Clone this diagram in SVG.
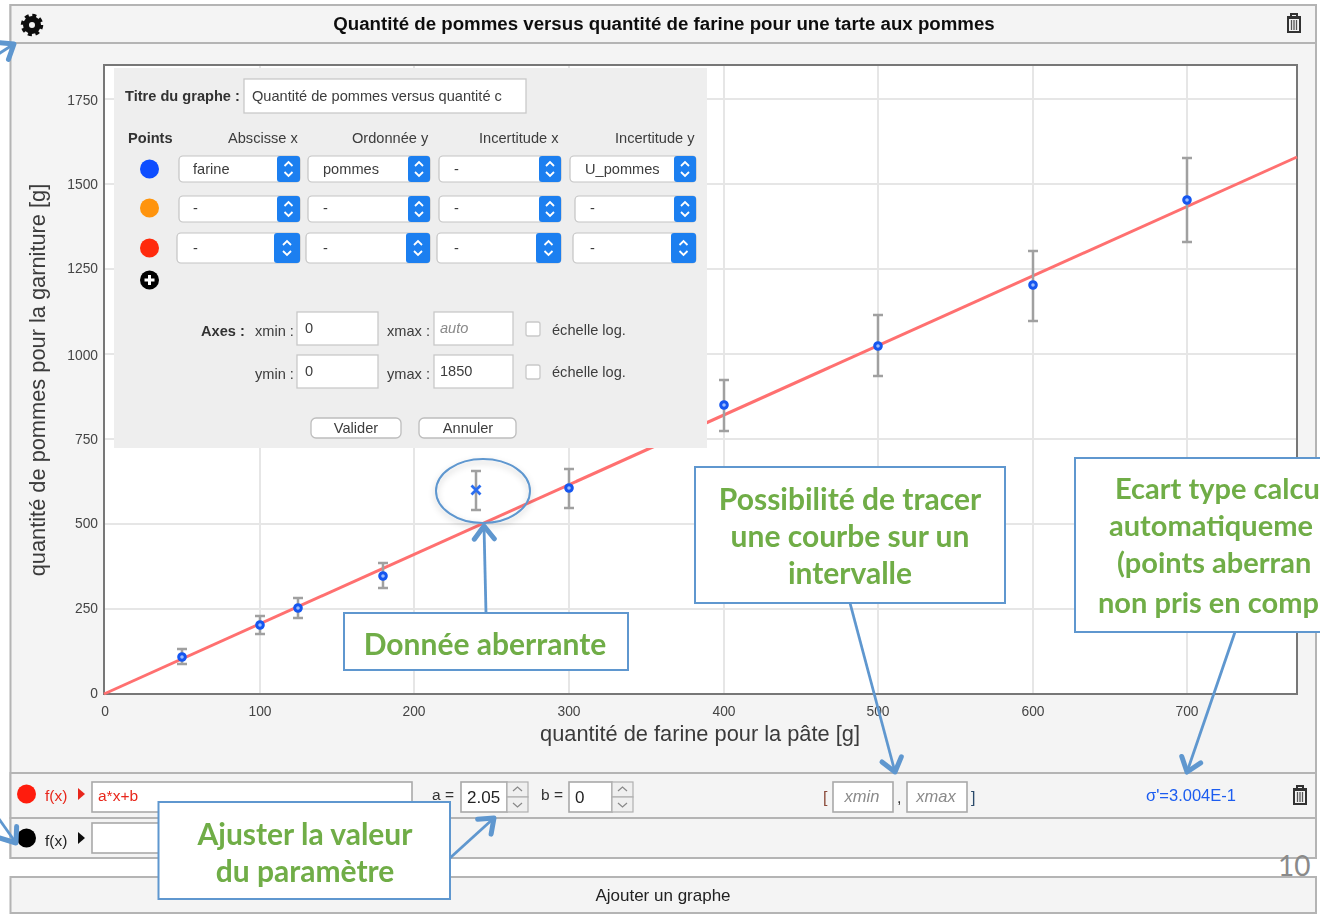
<svg xmlns="http://www.w3.org/2000/svg" xmlns:xlink="http://www.w3.org/1999/xlink" width="1320" height="922" viewBox="0 0 1320 922">
<style>
text{font-family:"Liberation Sans",Arial,sans-serif;fill:#333}
.p{fill:#f4f4f4;stroke:#b4b4b4;stroke-width:2}
.grid{stroke:#e6e6e6;stroke-width:2;fill:none}
.tick{font-size:13.800px;fill:#444}
.ax{font-size:21.800px;fill:#3a3a3a}
.err{stroke:#a0a0a0;stroke-width:2.500;fill:none}
.pt{fill:#9dbdff;stroke:#1556f0;stroke-width:3}
.d{font-size:14.600px;fill:#3c3c3c}
.db{font-size:14.600px;font-weight:bold;fill:#333}
.in{fill:#fff;stroke:#c9c9c9;stroke-width:1.300}
.sel{fill:#fff;stroke:#c4c4c4;stroke-width:1.200}
.blue{fill:#1c7ff0}
.chev{fill:none;stroke:#fff;stroke-width:1.800}
.btn{fill:#fff;stroke:#bdbdbd;stroke-width:1.300}
.rin{fill:#fff;stroke:#a9a9a9;stroke-width:1.600}
.spin{fill:#efefef;stroke:#b0b0b0;stroke-width:1.200}
.sc{fill:none;stroke:#888;stroke-width:1.200}
.call{fill:#fff;stroke:#5f97cf;stroke-width:2}
.ct{font-family:Lato,"Open Sans",sans-serif;font-weight:bold;font-size:30px;fill:#70ad47}
.cs{font-size:29px}
.cm{text-anchor:middle}
.conn{fill:none;stroke:#5f97cf;stroke-width:2.800}
.ph{font-style:italic;fill:#8a8a8a}
</style>
<defs>
<g id="chevs"><path class="chev" d="M-4,-3 L0,-7 L4,-3 M-4,3 L0,7 L4,3"/></g>
<marker id="open" markerUnits="userSpaceOnUse" markerWidth="30" markerHeight="30" refX="24" refY="14" orient="auto" viewBox="0 0 30 30"><path d="M11,4 L24,14 L11,24" fill="none" stroke="#5f97cf" stroke-width="5" stroke-linecap="round" stroke-linejoin="round"/></marker>
<g id="trash"><path d="M-7,-7 H7 M-3,-7 V-10 H3 V-7 M-6,-6 V8 H6 V-6 Z" fill="none" stroke="#333" stroke-width="2"/><path d="M-2.500,-4 V6 M0,-4 V6 M2.500,-4 V6" stroke="#555" stroke-width="1.300"/></g>
<filter id="sh" x="-20%" y="-20%" width="140%" height="150%"><feDropShadow dx="0" dy="3" stdDeviation="3" flood-color="#000" flood-opacity="0.22"/></filter>
<filter id="soft" x="-1%" y="-1%" width="102%" height="102%"><feGaussianBlur stdDeviation="0.450"/></filter>
</defs>
<rect width="1320" height="922" fill="#fff"/>

<g id="panel" filter="url(#soft)">
<rect class="p" x="10.500" y="5" width="1305.500" height="853"/>
<rect class="p" x="10.500" y="5" width="1305.500" height="38"/>
<rect class="p" x="10.500" y="773" width="1305.500" height="45"/>
<rect class="p" x="10.500" y="818" width="1305.500" height="40"/>
<text x="664" y="30" text-anchor="middle" font-size="18.700" font-weight="bold" style="fill:#111">Quantité de pommes versus quantité de farine pour une tarte aux pommes</text>
<g id="gear" transform="translate(32,25)"><circle r="6" fill="none" stroke="#111" stroke-width="6"/><circle r="9.500" fill="none" stroke="#111" stroke-width="3.500" stroke-dasharray="4 3.460"/></g>
<use xlink:href="#trash" href="#trash" x="1294" y="24"/>
</g>

<g id="plot" filter="url(#soft)">
<rect x="104" y="65" width="1193" height="629" fill="#fff" stroke="#777" stroke-width="2"/>
<path class="grid" d="M260,66V693M414,66V693M569,66V693M724,66V693M878,66V693M1033,66V693M1187,66V693M105,99H1296M105,184H1296M105,269H1296M105,354H1296M105,439H1296M105,524H1296M105,609H1296"/>
<path d="M104,694 L1297,157" stroke="#ff7070" stroke-width="3" fill="none"/>
<path class="err" d="M182,649V664M177,649H187M177,664H187M260,616V634M255,616H265M255,634H265M298,598V618M293,598H303M293,618H303M383,563V588M378,563H388M378,588H388M476,471V510M471,471H481M471,510H481M569,469V508M564,469H574M564,508H574M724,380V431M719,380H729M719,431H729M878,315V376M873,315H883M873,376H883M1033,251V321M1028,251H1038M1028,321H1038M1187,158V242M1182,158H1192M1182,242H1192"/>
<circle class="pt" cx="182" cy="657" r="3.300"/><circle class="pt" cx="260" cy="625" r="3.300"/><circle class="pt" cx="298" cy="608" r="3.300"/><circle class="pt" cx="383" cy="576" r="3.300"/><circle class="pt" cx="569" cy="488" r="3.300"/><circle class="pt" cx="724" cy="405" r="3.300"/><circle class="pt" cx="878" cy="346" r="3.300"/><circle class="pt" cx="1033" cy="285" r="3.300"/><circle class="pt" cx="1187" cy="200" r="3.300"/>
<path d="M471.500,485.500L480.500,494.500M480.500,485.500L471.500,494.500" stroke="#2a6df0" stroke-width="2.800"/>
<g text-anchor="end">
<text class="tick" x="98" y="105">1750</text><text class="tick" x="98" y="189">1500</text><text class="tick" x="98" y="273">1250</text><text class="tick" x="98" y="360">1000</text><text class="tick" x="98" y="444">750</text><text class="tick" x="98" y="528">500</text><text class="tick" x="98" y="613">250</text><text class="tick" x="98" y="698">0</text>
</g>
<g text-anchor="middle">
<text class="tick" x="105" y="716">0</text><text class="tick" x="260" y="716">100</text><text class="tick" x="414" y="716">200</text><text class="tick" x="569" y="716">300</text><text class="tick" x="724" y="716">400</text><text class="tick" x="878" y="716">500</text><text class="tick" x="1033" y="716">600</text><text class="tick" x="1187" y="716">700</text>
</g>
<text class="ax" x="700" y="741" text-anchor="middle">quantité de farine pour la pâte [g]</text>
<text class="ax" transform="translate(45,380) rotate(-90)" text-anchor="middle">quantité de pommes pour la garniture [g]</text>
</g>

<g id="settings-dialog" filter="url(#soft)">
<rect x="114" y="68" width="593" height="380" fill="#eeeeee"/>
<text class="db" x="125" y="101">Titre du graphe :</text>
<rect class="in" x="244" y="79" width="282" height="34"/>
<text class="d" x="252" y="101">Quantité de pommes versus quantité c</text>
<text class="db" x="128" y="143">Points</text>
<text class="d" x="228" y="143">Abscisse x</text><text class="d" x="352" y="143">Ordonnée y</text><text class="d" x="479" y="143">Incertitude x</text><text class="d" x="615" y="143">Incertitude y</text>
<circle cx="149.500" cy="169" r="9.500" fill="#0a4dff"/><circle cx="149.500" cy="208" r="9.500" fill="#ff9408"/><circle cx="149.500" cy="248" r="9.500" fill="#ff2a0a"/>
<circle cx="149.500" cy="280" r="9.500" fill="#000"/><path d="M144.500,280H154.500M149.500,275V285" stroke="#fff" stroke-width="3"/>
<g id="row1">
<rect class="sel" x="179" y="156" width="121" height="26" rx="4"/><rect class="blue" x="277" y="156" width="23" height="26" rx="3"/><use href="#chevs" xlink:href="#chevs" x="288.500" y="169"/><text class="d" x="193" y="174">farine</text>
<rect class="sel" x="308" y="156" width="122" height="26" rx="4"/><rect class="blue" x="408" y="156" width="22" height="26" rx="3"/><use href="#chevs" xlink:href="#chevs" x="419" y="169"/><text class="d" x="323" y="174">pommes</text>
<rect class="sel" x="439" y="156" width="122" height="26" rx="4"/><rect class="blue" x="539" y="156" width="22" height="26" rx="3"/><use href="#chevs" xlink:href="#chevs" x="550" y="169"/><text class="d" x="454" y="174">-</text>
<rect class="sel" x="570" y="156" width="126" height="26" rx="4"/><rect class="blue" x="674" y="156" width="22" height="26" rx="3"/><use href="#chevs" xlink:href="#chevs" x="685" y="169"/><text class="d" x="585" y="174">U_pommes</text>
</g>
<g id="row2">
<rect class="sel" x="179" y="196" width="121" height="26" rx="4"/><rect class="blue" x="277" y="196" width="23" height="26" rx="3"/><use href="#chevs" xlink:href="#chevs" x="288.500" y="209"/><text class="d" x="193" y="213">-</text>
<rect class="sel" x="308" y="196" width="122" height="26" rx="4"/><rect class="blue" x="408" y="196" width="22" height="26" rx="3"/><use href="#chevs" xlink:href="#chevs" x="419" y="209"/><text class="d" x="323" y="213">-</text>
<rect class="sel" x="439" y="196" width="122" height="26" rx="4"/><rect class="blue" x="539" y="196" width="22" height="26" rx="3"/><use href="#chevs" xlink:href="#chevs" x="550" y="209"/><text class="d" x="454" y="213">-</text>
<rect class="sel" x="575" y="196" width="121" height="26" rx="4"/><rect class="blue" x="674" y="196" width="22" height="26" rx="3"/><use href="#chevs" xlink:href="#chevs" x="685" y="209"/><text class="d" x="590" y="213">-</text>
</g>
<g id="row3">
<rect class="sel" x="177" y="233" width="123" height="30" rx="4"/><rect class="blue" x="274" y="233" width="26" height="30" rx="3"/><use href="#chevs" xlink:href="#chevs" x="287" y="248"/><text class="d" x="193" y="253">-</text>
<rect class="sel" x="306" y="233" width="124" height="30" rx="4"/><rect class="blue" x="406" y="233" width="24" height="30" rx="3"/><use href="#chevs" xlink:href="#chevs" x="418" y="248"/><text class="d" x="323" y="253">-</text>
<rect class="sel" x="437" y="233" width="124" height="30" rx="4"/><rect class="blue" x="536" y="233" width="25" height="30" rx="3"/><use href="#chevs" xlink:href="#chevs" x="548.500" y="248"/><text class="d" x="454" y="253">-</text>
<rect class="sel" x="573" y="233" width="123" height="30" rx="4"/><rect class="blue" x="671" y="233" width="25" height="30" rx="3"/><use href="#chevs" xlink:href="#chevs" x="683.500" y="248"/><text class="d" x="590" y="253">-</text>
</g>
<text class="db" x="201" y="336">Axes :</text>
<text class="d" x="255" y="336">xmin :</text><rect class="in" x="297" y="312" width="81" height="33"/><text class="d" x="305" y="333">0</text>
<text class="d" x="387" y="336">xmax :</text><rect class="in" x="434" y="312" width="79" height="33"/><text class="d ph" x="440" y="333">auto</text>
<rect class="in" x="526" y="322" width="14" height="14" rx="2"/><text class="d" x="552" y="335">échelle log.</text>
<text class="d" x="255" y="379">ymin :</text><rect class="in" x="297" y="355" width="81" height="33"/><text class="d" x="305" y="376">0</text>
<text class="d" x="387" y="379">ymax :</text><rect class="in" x="434" y="355" width="79" height="33"/><text class="d" x="440" y="376">1850</text>
<rect class="in" x="526" y="365" width="14" height="14" rx="2"/><text class="d" x="552" y="377">échelle log.</text>
<rect class="btn" x="311" y="418" width="90" height="20" rx="5"/><text class="d" x="356" y="433" text-anchor="middle">Valider</text>
<rect class="btn" x="419" y="418" width="97" height="20" rx="5"/><text class="d" x="468" y="433" text-anchor="middle">Annuler</text>
</g>

<g id="function-row-1" filter="url(#soft)">
<circle cx="26.500" cy="794" r="9.500" fill="#ff1f0a"/>
<text x="45" y="801" font-size="15.500" style="fill:#e8281c">f(x)</text><path d="M78,788L85,794L78,800Z" fill="#e8281c"/>
<rect class="rin" x="92" y="782" width="320" height="30"/>
<text x="98" y="801" font-size="15.500" style="fill:#e8281c">a*x+b</text>
<text x="432" y="800" font-size="15.500">a =</text>
<rect class="rin" x="461" y="782" width="46" height="30"/><text x="467" y="803" font-size="17" style="fill:#222">2.05</text>
<rect class="spin" x="507" y="782" width="21" height="15"/><rect class="spin" x="507" y="797" width="21" height="15"/><path class="sc" d="M513,791L517.500,787L522,791M513,803L517.500,807L522,803"/>
<text x="541" y="800" font-size="15.500">b =</text>
<rect class="rin" x="569" y="782" width="43" height="30"/><text x="575" y="803" font-size="17" style="fill:#222">0</text>
<rect class="spin" x="612" y="782" width="21" height="15"/><rect class="spin" x="612" y="797" width="21" height="15"/><path class="sc" d="M618,791L622.500,787L627,791M618,803L622.500,807L627,803"/>
<text x="823" y="803" font-size="16" style="fill:#8a4a3a">[</text>
<rect class="rin" x="833" y="782" width="60" height="30"/><text class="ph" x="862" y="802" font-size="16.500" text-anchor="middle">xmin</text>
<text x="897" y="803" font-size="16">,</text>
<rect class="rin" x="907" y="782" width="60" height="30"/><text class="ph" x="936" y="802" font-size="16.500" text-anchor="middle">xmax</text>
<text x="971" y="803" font-size="16" style="fill:#2a4a6a">]</text>
<text x="1146" y="801" font-size="16.500" style="fill:#1a5cf0">σ'=3.004E-1</text>
<use href="#trash" xlink:href="#trash" x="1300" y="796"/>
</g>

<g id="function-row-2" filter="url(#soft)">
<circle cx="26.500" cy="838" r="9.500" fill="#000"/>
<text x="45" y="846" font-size="15.500" style="fill:#222">f(x)</text><path d="M78,832L85,838L78,844Z" fill="#111"/>
<rect class="rin" x="92" y="823" width="320" height="30"/>
</g>

<g id="add-graph" filter="url(#soft)">
<rect class="p" x="10.500" y="877" width="1305.500" height="36"/>
<text x="663" y="901" font-size="17" text-anchor="middle" style="fill:#222">Ajouter un graphe</text>
</g>

<g id="page-number"><text x="1278" y="876" style="font-family:Lato,sans-serif;fill:#8a8a8a" font-size="28">10</text></g>

<g id="outlier-ring"><ellipse cx="483" cy="491" rx="47" ry="32" fill="none" stroke="#5f97cf" stroke-width="2" filter="url(#sh)"/></g>

<g id="connectors">
<path class="conn" marker-end="url(#open)" d="M486,613 L484,526"/>
<path class="conn" marker-end="url(#open)" d="M850,603 L895,772"/>
<path class="conn" marker-end="url(#open)" d="M1235,632 L1187,772"/>
<path class="conn" marker-end="url(#open)" d="M450,858 L494,818"/>
<path class="conn" marker-end="url(#open)" d="M-14,62 L14,44"/>
<path class="conn" marker-end="url(#open)" d="M-6,812 L16,843"/>
</g>

<g id="callout-aberrante">
<rect class="call" x="344" y="613" width="284" height="57"/>
<text class="ct cm" x="485" y="655">Donnée aberrante</text>
</g>
<g id="callout-intervalle">
<rect class="call" x="695" y="467" width="310" height="136"/>
<text class="ct cm" x="850" y="510">Possibilité de tracer</text>
<text class="ct cm" x="850" y="547">une courbe sur un</text>
<text class="ct cm" x="850" y="584">intervalle</text>
</g>
<g id="callout-ecart">
<rect class="call" x="1075" y="458" width="260" height="174"/>
<text class="ct cs" x="1115" y="499">Ecart type calcu</text>
<text class="ct cs" x="1109" y="536">automatiqueme</text>
<text class="ct cs" x="1117" y="573">(points aberran</text>
<text class="ct cs" x="1098" y="613">non pris en comp</text>
</g>
<g id="callout-parametre">
<rect class="call" x="158.500" y="802" width="291.500" height="97"/>
<text class="ct cm" x="305" y="845">Ajuster la valeur</text>
<text class="ct cm" x="305" y="882">du paramètre</text>
</g>
</svg>
